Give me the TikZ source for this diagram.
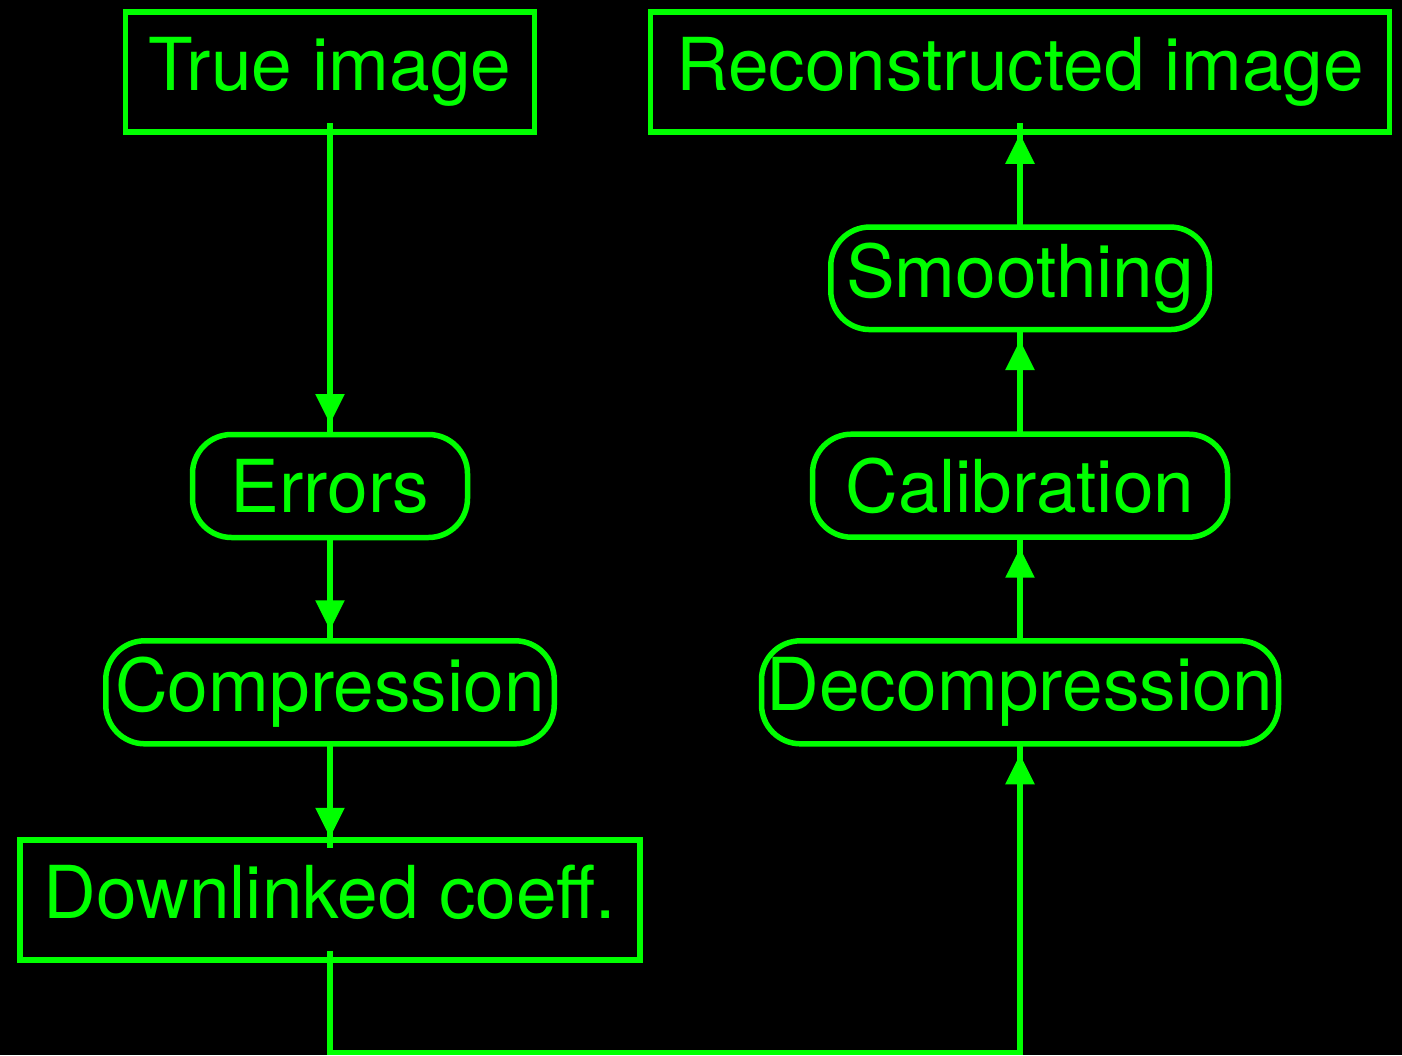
\documentclass[tikz,border=0pt]{standalone}
\usepackage{fontspec}
\setmainfont{TeX Gyre Heros}
\usetikzlibrary{arrows.meta,decorations.markings}
\definecolor{termgreen}{RGB}{0,255,0}
\begin{document}
\begin{tikzpicture}[x=1pt,y=-1pt,
  box/.style={draw=termgreen, line width=5.5pt, text=termgreen,
    font=\fontsize{73pt}{80pt}\selectfont, inner sep=0pt, outer sep=0pt},
  plainbox/.style={box, rectangle, text height=53.3pt, text depth=15.3pt},
  roundbox/.style={box, rectangle, rounded corners=39pt},
  flow/.style={color=termgreen, line width=5.5pt, postaction=decorate,
    decoration={markings,
      mark=at position -10.5pt with {\arrow{Triangle[length=30pt,width=28pt]}}}}]

% black page
\fill[black] (0,0) rectangle (1402,1055);
\useasboundingbox (0,0) rectangle (1402,1055);

% left column: acquisition side
\node[plainbox, minimum width=409pt, minimum height=120pt] (truimg) at (330,71.8) {True image};
\node[roundbox, minimum width=275pt, minimum height=103pt] (errors) at (330,486) {Errors};
\node[roundbox, minimum width=448.5pt, minimum height=103pt] (compr) at (330,692.3) {Compression};
\node[plainbox, minimum width=620pt, minimum height=120pt] (downl) at (330,899.8) {Downlinked coeff.};

% right column: ground processing
\node[plainbox, minimum width=739pt, minimum height=120pt] (recimg) at (1020,71.8) {Reconstructed image};
\node[roundbox, minimum width=378.5pt, minimum height=102.5pt] (smooth) at (1020,278.3) {Smoothing};
\node[roundbox, minimum width=415pt, minimum height=103pt] (calib) at (1020,485.7) {Calibration};
\node[roundbox, minimum width=517pt, minimum height=103pt] (decomp) at (1020,692.3) {Decompression};

% routing corner below the columns
\coordinate (low) at (1020,1052.3);

% connectors
\draw[flow] ([yshift=8.5pt]truimg.south) -- (errors.north);
\draw[flow] (errors.south) -- (compr.north);
\draw[flow] (compr.south) -- ([yshift=-8.5pt]downl.north);
\draw[flow] ([yshift=8.5pt]downl.south) |- (low) -- (decomp.south);
\draw[flow] (decomp.north) -- (calib.south);
\draw[flow] (calib.north) -- (smooth.south);
\draw[flow] (smooth.north) -- ([yshift=8.5pt]recimg.south);
\end{tikzpicture}
\end{document}
